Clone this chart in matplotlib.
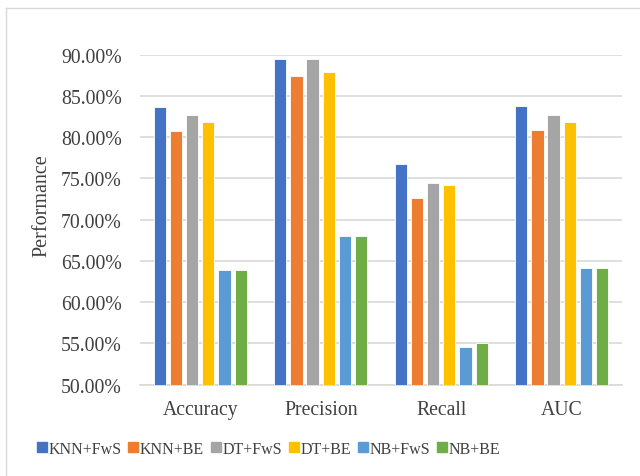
import numpy as np
import matplotlib
matplotlib.use("Agg")
import matplotlib.pyplot as plt
from matplotlib.lines import Line2D
from matplotlib.ticker import PercentFormatter

plt.rcParams['font.family'] = ['Liberation Serif', 'DejaVu Serif']

metrics = ['Accuracy', 'Precision', 'Recall', 'AUC']
methods = ['KNN+FwS', 'KNN+BE', 'DT+FwS', 'DT+BE', 'NB+FwS', 'NB+BE']
colors = ['#4472C4', '#ED7D31', '#A5A5A5', '#FFC000', '#5B9BD5', '#70AD47']

knn_fws = [0.837, 0.895, 0.768, 0.838]
knn_be = [0.807, 0.874, 0.726, 0.809]
dt_fws = [0.827, 0.895, 0.745, 0.827]
dt_be = [0.819, 0.879, 0.742, 0.819]
nb_fws = [0.639, 0.680, 0.546, 0.641]
nb_be = [0.639, 0.680, 0.550, 0.641]
scores = [knn_fws, knn_be, dt_fws, dt_be, nb_fws, nb_be]

text_col = '#404040'
grid_col = '#D9D9D9'

fig = plt.figure(figsize=(6.4, 4.77), dpi=100)
ax = fig.add_axes([0.21875, 0.1914, 0.753, 0.6918])

x = np.arange(len(metrics))
step = 0.1345
width = 0.102
for i, (vals, c) in enumerate(zip(scores, colors)):
    ax.bar(x + (i - 2.5) * step, vals, width, color=c, label=methods[i],
           edgecolor='white', linewidth=0.6, zorder=3)

ax.set_xlim(-0.5, len(metrics) - 0.5)
ax.set_ylim(0.5, 0.9)
ax.set_yticks(np.arange(0.5, 0.9001, 0.05))
ax.yaxis.set_major_formatter(PercentFormatter(1.0, decimals=2))
ax.set_xticks(x)
ax.set_xticklabels(metrics)
ax.tick_params(axis='both', length=0, labelsize=14.2, colors=text_col)
ax.tick_params(axis='y', pad=13)
ax.tick_params(axis='x', pad=11)
ax.grid(axis='y', color=grid_col, linewidth=1.2, zorder=0)
for s in ['top', 'right', 'left']:
    ax.spines[s].set_visible(False)
ax.spines['bottom'].set_color(grid_col)
ax.spines['bottom'].set_linewidth(1.2)
ax.set_ylabel('Performance', fontsize=14.5, color=text_col)
ax.yaxis.set_label_coords(-0.183, 0.545)

handles = [Line2D([], [], marker='s', linestyle='none', markersize=6.5,
                  markerfacecolor=c, markeredgecolor=c) for c in colors]
fig.legend(handles, methods, loc='center', bbox_to_anchor=(0.42, 0.057),
           ncol=6, frameon=False, fontsize=11.5, handlelength=0.55,
           handletextpad=0.15, columnspacing=0.45, labelcolor=text_col)

# thin frame lines along the top and left edge
fig.add_artist(Line2D([0.009, 1.0], [0.981, 0.981], color=grid_col, linewidth=1))
fig.add_artist(Line2D([0.009, 0.009], [0.0, 0.981], color=grid_col, linewidth=1))

fig.savefig('out.png', dpi=100, facecolor='white')
